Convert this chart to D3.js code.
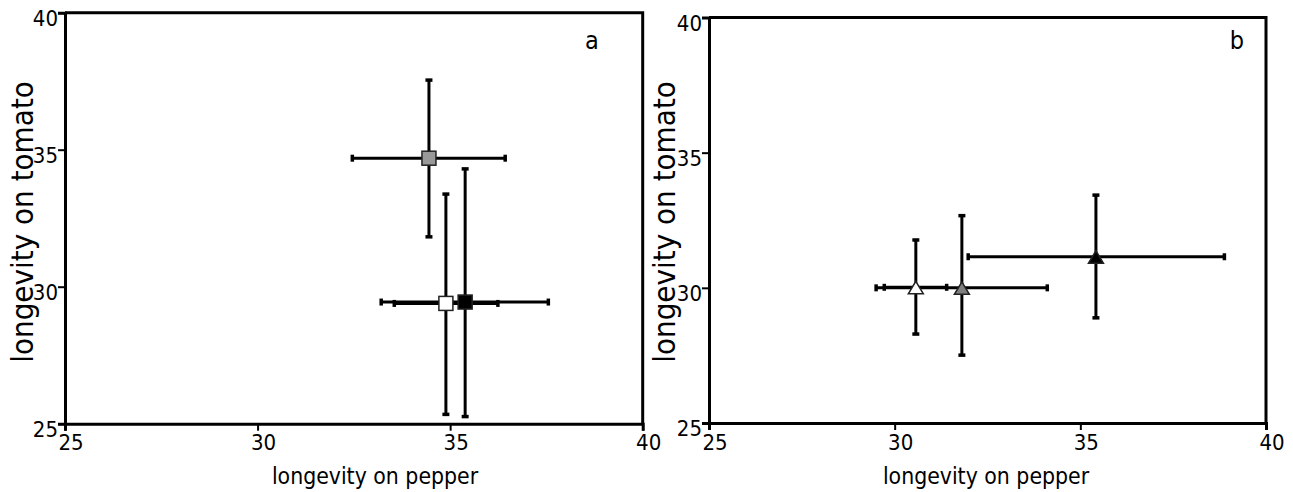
<!DOCTYPE html>
<html>
<head>
<meta charset="utf-8">
<script src="https://cdn.jsdelivr.net/npm/d3@7"></script>
<style>
  html, body { margin: 0; padding: 0; background: #fff; }
  svg { display: block; font-family: "DejaVu Sans", sans-serif; font-stretch: condensed; }
</style>
</head>
<body>
<svg id="chart" width="1293" height="492"></svg>
<script>
// ---- data ----
const tickValues = [25, 30, 35, 40];
const xTitle = "longevity on pepper";
const yTitle = "longevity on tomato";

// panel a (squares): mean and error-bar ends
const groupsA = ["gray", "white", "black"];
const xA   = [34.45, 34.89, 35.39];
const yA   = [34.69, 29.39, 29.44];
const xLoA = [32.46, 33.55, 33.21];
const xHiA = [36.43, 36.24, 37.55];
const yLoA = [31.82, 25.34, 25.26];
const yHiA = [37.54, 33.38, 34.30];

// panel b (triangles)
const groupsB = ["white", "gray", "black"];
const xB   = [30.57, 31.81, 35.42];
const yB   = [30.02, 30.00, 31.15];
const xLoB = [29.72, 29.50, 31.98];
const xHiB = [31.40, 34.11, 38.88];
const yLoB = [28.29, 27.51, 28.89];
const yHiB = [31.77, 32.67, 33.43];

const fills = { white: "#ffffff", gray: "#999999", black: "#000000" };
const triFills = { white: "#ffffff", gray: "#7f7f7f", black: "#000000" };

// ---- layout ----
const svg = d3.select("#chart");
svg.append("rect").attr("width", 1293).attr("height", 492).attr("fill", "#fff");

const panels = [
  { letter: "a", x0: 65, x1: 642.7, y0: 12.7, y1: 423.7,
    groups: groupsA, xs: xA, ys: yA, xlo: xLoA, xhi: xHiA, ylo: yLoA, yhi: yHiA, shape: "square",
    letterPos: [592, 49], xTitlePos: [375, 484], yTitlePos: [33, 222] },
  { letter: "b", x0: 709, x1: 1266, y0: 17.5, y1: 423,
    groups: groupsB, xs: xB, ys: yB, xlo: xLoB, xhi: xHiB, ylo: yLoB, yhi: yHiB, shape: "triangle",
    letterPos: [1237, 49], xTitlePos: [986, 484], yTitlePos: [675, 222] }
];

panels.forEach(p => {
  const x = d3.scaleLinear().domain([25, 40]).range([p.x0, p.x1]);
  const y = d3.scaleLinear().domain([25, 40]).range([p.y1, p.y0]);
  const g = svg.append("g");

  // frame (top + right)
  g.append("path")
    .attr("d", `M${p.x0},${p.y0}H${p.x1}V${p.y1}`)
    .attr("fill", "none").attr("stroke", "#000").attr("stroke-width", 3);

  // axes
  const xAxis = g.append("g").attr("transform", `translate(0,${p.y1})`)
    .call(d3.axisBottom(x).tickValues(tickValues).tickSize(7).tickPadding(4).tickFormat(d3.format("d")));
  const yAxis = g.append("g").attr("transform", `translate(${p.x0},0)`)
    .call(d3.axisLeft(y).tickValues(tickValues).tickSize(7).tickPadding(0).tickFormat(d3.format("d")));
  [xAxis, yAxis].forEach(ax => {
    ax.select(".domain").attr("stroke", "#000").attr("stroke-width", 3);
    ax.selectAll(".tick line").attr("stroke", "#000").attr("stroke-width", 2);
    ax.selectAll(".tick text").attr("fill", "#000").style("font-size", "22px")
      .style("font-family", "DejaVu Sans, sans-serif");
  });
  xAxis.selectAll(".tick text").attr("dx", 5.5);
  yAxis.selectAll(".tick text").attr("dy", "0.58em");

  // titles
  g.append("text").attr("x", p.xTitlePos[0]).attr("y", p.xTitlePos[1])
    .attr("text-anchor", "middle").style("font-size", "22.8px").text(xTitle);
  g.append("text")
    .attr("transform", `translate(${p.yTitlePos[0]},${p.yTitlePos[1]}) rotate(-90)`)
    .attr("text-anchor", "middle").style("font-size", "31px").text(yTitle);
  g.append("text").attr("x", p.letterPos[0]).attr("y", p.letterPos[1])
    .attr("text-anchor", "middle").style("font-size", "25px").text(p.letter);

  // error bars
  const cap = 3.5, bw = 3;
  p.groups.forEach((grp, i) => {
    const cx = x(p.xs[i]), cy = y(p.ys[i]);
    const xl = x(p.xlo[i]), xr = x(p.xhi[i]);
    const yt = y(p.yhi[i]), yb = y(p.ylo[i]);
    const eg = g.append("g").attr("stroke", "#000").attr("fill", "none");
    eg.append("line").attr("x1", xl).attr("x2", xr).attr("y1", cy).attr("y2", cy).attr("stroke-width", bw);
    eg.append("line").attr("x1", cx).attr("x2", cx).attr("y1", yt).attr("y2", yb).attr("stroke-width", bw);
    [xl, xr].forEach(xx => eg.append("line").attr("x1", xx).attr("x2", xx)
      .attr("y1", cy - cap).attr("y2", cy + cap).attr("stroke-width", 3.5));
    [yt, yb].forEach(yy => eg.append("line").attr("y1", yy).attr("y2", yy)
      .attr("x1", cx - cap).attr("x2", cx + cap).attr("stroke-width", 3.5));
  });

  // markers
  p.groups.forEach((grp, i) => {
    const cx = x(p.xs[i]), cy = y(p.ys[i]);
    if (p.shape === "square") {
      g.append("rect").attr("x", cx - 7).attr("y", cy - 7).attr("width", 14).attr("height", 14)
        .attr("fill", fills[grp]).attr("stroke", "#222").attr("stroke-width", 1.5);
    } else {
      g.append("path").attr("d", `M${cx},${cy - 6}L${cx + 7.5},${cy + 6.5}L${cx - 7.5},${cy + 6.5}Z`)
        .attr("fill", triFills[grp]).attr("stroke", "#222").attr("stroke-width", 1.5);
    }
  });
});
</script>
</body>
</html>
